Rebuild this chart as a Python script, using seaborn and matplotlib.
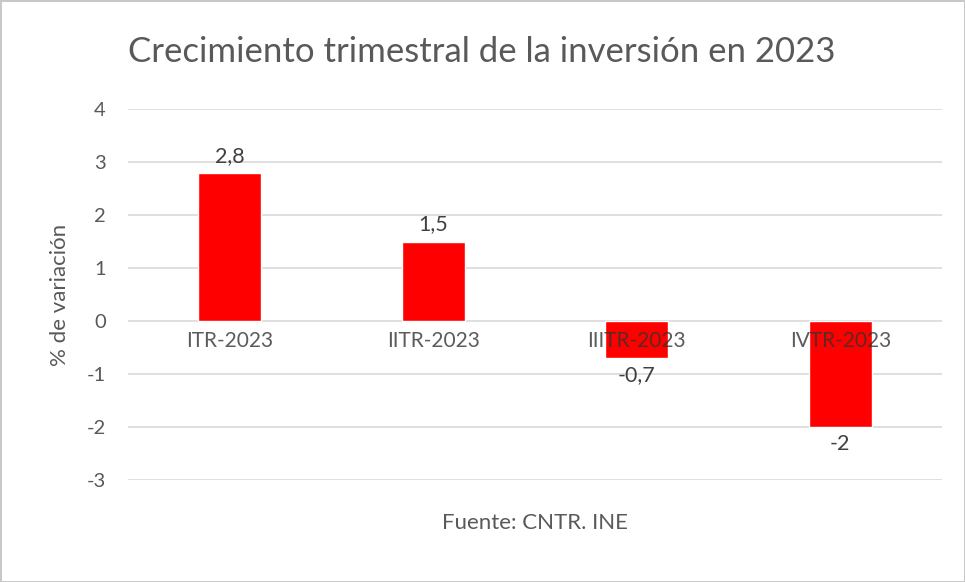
import numpy as np
import pandas as pd
import matplotlib.pyplot as plt
import seaborn as sns

trimestres = ["ITR-2023", "IITR-2023", "IIITR-2023", "IVTR-2023"]
variacion = [2.8, 1.5, -0.7, -2.0]
etiquetas = ["2,8", "1,5", "-0,7", "-2"]

dat = pd.DataFrame({"trimestre": trimestres, "variacion": variacion})

sns.set_theme(style="white")
plt.rcParams['font.family'] = ['Lato', 'DejaVu Sans']
plt.rcParams['axes.unicode_minus'] = False
gris = "#595959"

fig = plt.figure(figsize=(9.65, 5.82), dpi=100)
fig.patch.set_edgecolor("#c8c8c8")
fig.patch.set_linewidth(2)
ax = fig.add_axes([128/965, 102/582, 814/965, 371/582])

sns.barplot(data=dat, x="trimestre", y="variacion", color="#ff0000",
            saturation=1, width=0.31, ax=ax, zorder=3)
ax.set_ylim(-3, 4)
ax.set_xlim(-0.5, 3.5)
ax.set_yticks(range(-3, 5))
ax.yaxis.grid(True, color="#d9d9d9", lw=1.2)
ax.set_axisbelow(True)
sns.despine(ax=ax, left=True, bottom=True)
ax.tick_params(axis="y", length=0, labelsize=14.5, labelcolor=gris, pad=16)
ax.set_xticks(range(len(trimestres)))
ax.set_xticklabels([])
ax.tick_params(axis="x", length=0)

# category labels sit on the zero line, semi-transparent over the bars
for i, t in enumerate(trimestres):
    ax.annotate(t, (i, 0), xytext=(0, -7), textcoords="offset points",
                ha="center", va="top", fontsize=15, color="#333333",
                alpha=0.8, zorder=4)

ax.bar_label(ax.containers[0], labels=etiquetas, padding=5,
             fontsize=15.5, color="#404040")

ax.set_ylabel("% de variación", fontsize=16, color=gris, labelpad=12)
ax.set_xlabel("Fuente: CNTR. INE", fontsize=16, color=gris, labelpad=20)
fig.suptitle("Crecimiento trimestral de la inversión en 2023", fontsize=25,
             color=gris, x=482/965, y=1 - 52/582, va="center")

fig.savefig("out.png", dpi=100)
